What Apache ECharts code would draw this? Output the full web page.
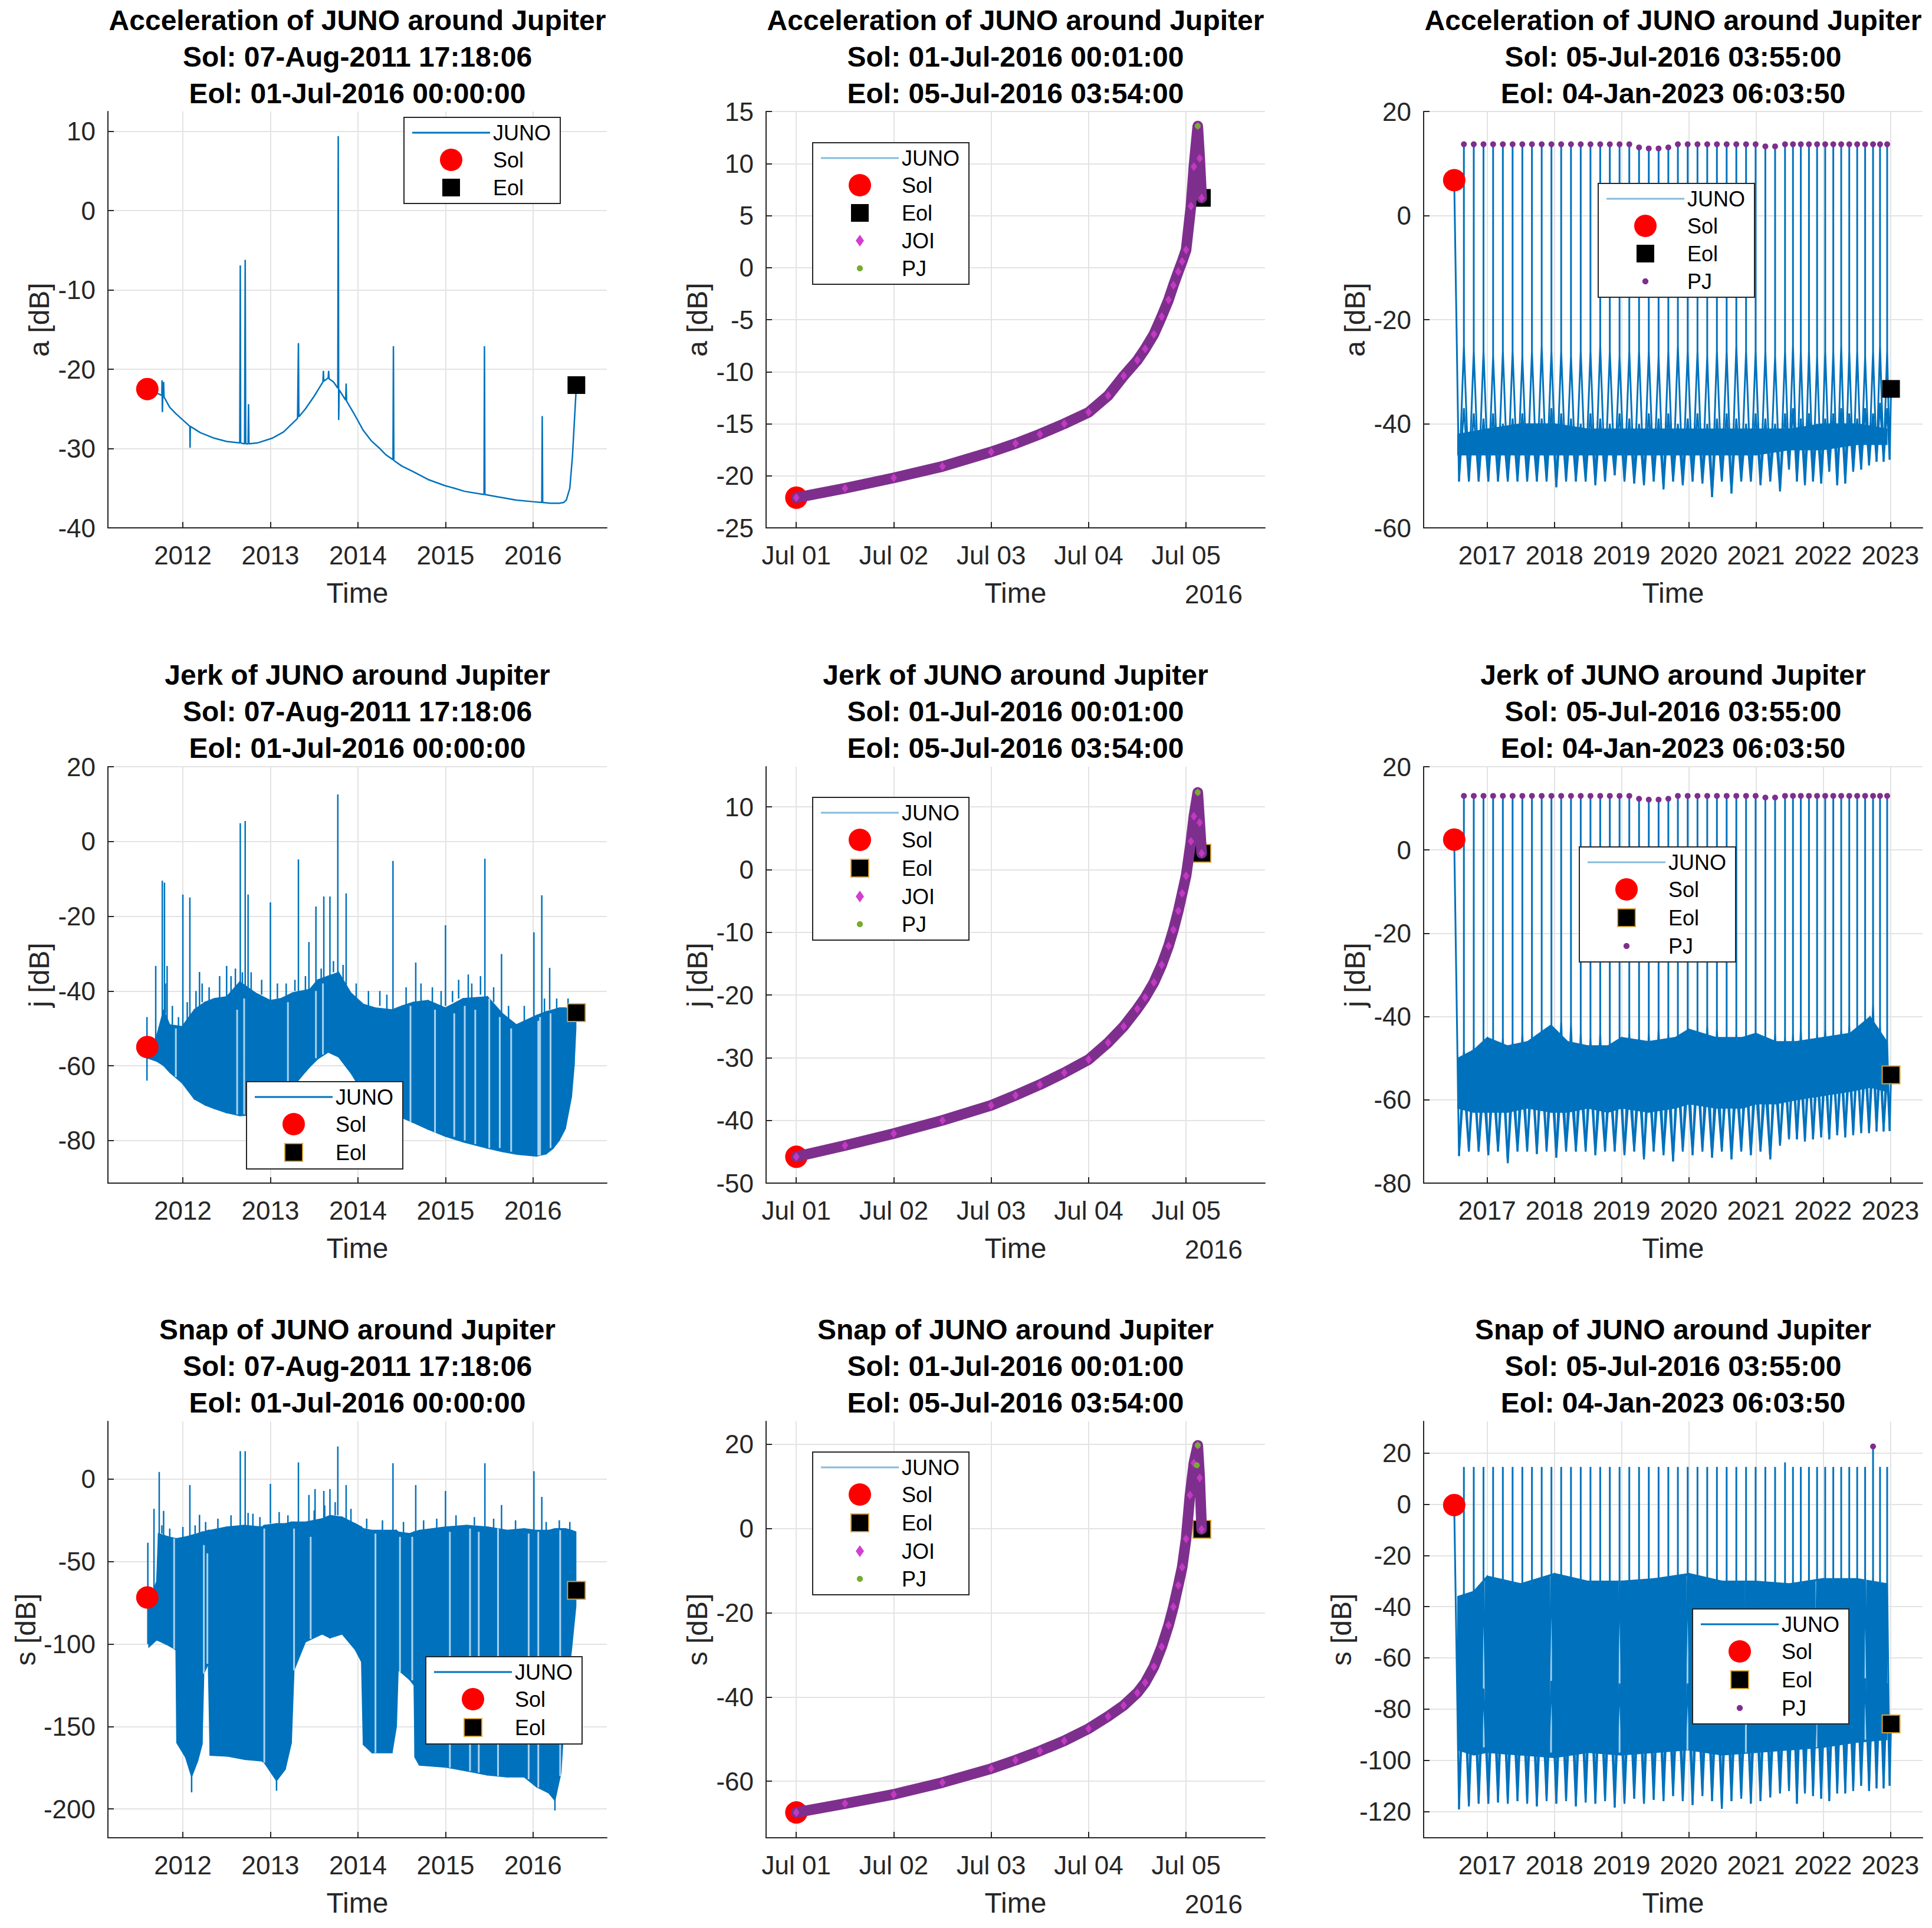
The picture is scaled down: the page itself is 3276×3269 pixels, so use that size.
<!DOCTYPE html>
<html><head><meta charset="utf-8">
<script src="https://cdn.jsdelivr.net/npm/echarts@6/dist/echarts.min.js"></script>
<style>html,body{margin:0;padding:0;background:#fff}#c{width:3276px;height:3269px}</style>
</head><body><div id="c"></div><script>
// ---------------- tick labels / text ----------------
const yearTicksCruise = [2012, 2013, 2014, 2015, 2016];
const dayTicksJOI = [1, 2, 3, 4, 5];
const dayTickLabelsJOI = ['Jul 01', 'Jul 02', 'Jul 03', 'Jul 04', 'Jul 05'];
const yearTicksScience = [2017, 2018, 2019, 2020, 2021, 2022, 2023];
const yTicksPanels = [
  [-40, -30, -20, -10, 0, 10], [-25, -20, -15, -10, -5, 0, 5, 10, 15], [-60, -40, -20, 0, 20],
  [-80, -60, -40, -20, 0, 20], [-50, -40, -30, -20, -10, 0, 10], [-80, -60, -40, -20, 0, 20],
  [-200, -150, -100, -50, 0], [-60, -40, -20, 0, 20], [-120, -100, -80, -60, -40, -20, 0, 20]
];
const xRanges = [[2011.144, 2016.843], [0.69, 5.81], [2016.054, 2023.48]];
const yRanges = [[-40, 12.5], [-25, 15], [-60, 20], [-91.4, 20], [-50, 16.4], [-80, 20], [-217.5, 35], [-73.4, 25.4], [-130.3, 32.4]];
const quantities = ['Acceleration', 'Jerk', 'Snap'];
const ySymbols = ['a', 'j', 's'];
const solText = ['07-Aug-2011 17:18:06', '01-Jul-2016 00:01:00', '05-Jul-2016 03:55:00'];
const eolText = ['01-Jul-2016 00:00:00', '05-Jul-2016 03:54:00', '04-Jan-2023 06:03:50'];
const yearLabelJOI = '2016';

// ---------------- Sol / Eol markers (row-major panels) ----------------
const solMarks = [[2011.594, -22.5], [1.0007, -22.1], [2016.509, 6.8], [2011.594, -55.0], [1.0007, -45.8], [2016.509, 2.5], [2011.594, -71.8], [1.0007, -67.4], [2016.509, -0.3]];
const eolMarks = [[2016.495, -22.0], [5.1625, 6.7], [2023.011, -33.3], [2016.495, -45.8], [5.1625, 2.6], [2023.011, -54.0], [2016.495, -67.5], [5.1625, -0.2], [2023.011, -85.8]];

// ---------------- cruise (2011-2016) ----------------
const accCruise = [[2011.594,-22.5],[2011.65,-22.8],[2011.70,-23.0],[2011.76,-23.3],[2011.762,-21.4],[2011.766,-25.4],[2011.77,-23.4],[2011.78,-21.6],[2011.785,-23.5],[2011.85,-24.8],[2011.92,-25.6],[2012.0,-26.4],[2012.08,-27.2],[2012.082,-29.9],[2012.085,-27.2],[2012.2,-28.0],[2012.36,-28.7],[2012.5,-29.1],[2012.65,-29.3],[2012.656,-6.9],[2012.66,-29.3],[2012.705,-29.4],[2012.712,-6.2],[2012.718,-29.4],[2012.745,-29.4],[2012.75,-24.4],[2012.755,-29.4],[2012.85,-29.3],[2013.02,-28.7],[2013.15,-27.9],[2013.31,-26.2],[2013.32,-16.7],[2013.325,-26.0],[2013.4,-25.0],[2013.50,-23.4],[2013.55,-22.5],[2013.60,-21.6],[2013.605,-20.2],[2013.61,-21.5],[2013.66,-21.1],[2013.665,-20.2],[2013.67,-21.2],[2013.72,-21.6],[2013.77,-22.4],[2013.775,9.4],[2013.78,-26.4],[2013.785,-22.6],[2013.86,-23.9],[2013.865,-21.8],[2013.87,-24.0],[2013.95,-25.5],[2014.06,-27.7],[2014.15,-29.0],[2014.25,-30.0],[2014.32,-30.8],[2014.40,-31.4],[2014.405,-17.1],[2014.41,-31.5],[2014.5,-32.2],[2014.63,-32.9],[2014.8,-33.9],[2015.00,-34.7],[2015.1,-35.0],[2015.22,-35.4],[2015.44,-35.8],[2015.445,-17.1],[2015.45,-35.8],[2015.6,-36.1],[2015.81,-36.5],[2016.0,-36.7],[2016.10,-36.8],[2016.105,-25.9],[2016.11,-36.8],[2016.2,-36.9],[2016.30,-36.9],[2016.35,-36.8],[2016.38,-36.5],[2016.42,-35.0],[2016.45,-31.0],[2016.47,-27.0],[2016.495,-22.0]];

// [time, lower edge, upper edge]
const jerkCruiseBand = [[2011.600,-58.0,-57.0],[2011.700,-58.8,-52.0],[2011.780,-60.0,-45.0],[2011.850,-61.8,-49.0],[2011.990,-64.6,-49.5],[2012.130,-68.9,-45.0],[2012.250,-70.5,-43.0],[2012.360,-71.5,-42.0],[2012.500,-72.6,-41.5],[2012.650,-73.4,-37.5],[2012.830,-73.1,-40.5],[2013.000,-71.5,-42.5],[2013.120,-69.4,-42.0],[2013.250,-66.0,-40.5],[2013.350,-63.0,-40.0],[2013.450,-60.3,-39.5],[2013.540,-58.2,-37.0],[2013.660,-56.4,-36.0],[2013.780,-57.7,-35.0],[2013.920,-62.0,-40.5],[2014.060,-67.3,-43.5],[2014.200,-70.3,-44.5],[2014.390,-72.6,-45.0],[2014.500,-73.9,-44.0],[2014.630,-75.2,-43.0],[2014.800,-77.0,-42.5],[2015.000,-78.9,-44.5],[2015.200,-80.4,-42.0],[2015.480,-82.1,-41.5],[2015.650,-83.0,-46.0],[2015.810,-83.7,-49.0],[2016.040,-84.2,-46.5],[2016.150,-83.6,-45.5],[2016.230,-82.1,-45.0],[2016.300,-80.0,-44.5],[2016.370,-76.8,-44.5],[2016.440,-68.3,-45.0],[2016.470,-60.0,-45.5],[2016.490,-50.0,-46.0]];
// [time, bottom, top]
const jerkCruiseSpikes = [[2011.590,-64.0,-47.0],[2011.690,-55.0,-33.3],[2011.765,-48.0,-10.5],[2011.790,-48.0,-11.0],[2011.820,-48.0,-33.3],[2012.000,-50.0,-14.2],[2012.080,-50.0,-15.0],[2012.190,-45.0,-34.9],[2012.500,-43.0,-33.3],[2012.656,-40.0,4.9],[2012.712,-40.0,5.5],[2012.745,-41.0,-14.2],[2013.000,-43.0,-16.3],[2013.320,-41.0,-4.8],[2013.440,-40.0,-26.9],[2013.520,-38.0,-17.4],[2013.610,-37.0,-14.7],[2013.680,-36.0,-14.7],[2013.770,-36.0,12.6],[2013.865,-40.0,-13.9],[2014.400,-45.0,-5.2],[2014.660,-43.0,-32.4],[2015.000,-44.0,-22.4],[2015.260,-42.0,-35.6],[2015.450,-42.0,-4.6],[2015.640,-46.0,-30.1],[2016.010,-47.0,-24.3],[2016.100,-46.0,-14.4],[2016.190,-45.0,-33.8]];
const jerkCruiseFringe = [[2011.80,-46,-38],[2011.88,-49,-44],[2011.95,-50,-47],[2012.05,-48,-43],[2012.15,-45,-40],[2012.22,-43,-38],[2012.30,-43,-39],[2012.42,-42,-36],[2012.55,-41,-36],[2012.60,-39,-34],[2012.68,-38,-35],[2012.78,-40,-35],[2012.90,-41,-37],[2013.08,-42,-38],[2013.18,-42,-38],[2013.28,-40,-37],[2013.40,-40,-36],[2013.58,-37,-34],[2013.72,-35,-32],[2013.83,-37,-33],[2013.98,-42,-38],[2014.12,-44,-40],[2014.25,-44,-40],[2014.33,-45,-41],[2014.55,-44,-39],[2014.72,-43,-38],[2014.85,-43,-39],[2014.95,-44,-40],[2015.08,-43,-40],[2015.15,-42,-37],[2015.30,-42,-38],[2015.40,-41,-36],[2015.55,-43,-39],[2015.72,-48,-44],[2015.90,-48,-44],[2016.13,-46,-42],[2016.27,-45,-42],[2016.40,-45,-42]];
const jerkCruiseStreaks = [[2011.92,-63,-50],[2012.62,-73,-45],[2012.70,-73,-42],[2013.20,-68,-43],[2013.52,-58,-40],[2013.60,-57,-38],[2014.60,-75,-44],[2014.88,-78,-45],[2015.10,-79,-46],[2015.22,-80,-44],[2015.34,-81,-45],[2015.50,-82,-42],[2015.62,-82,-47],[2015.75,-83,-50],[2016.06,-84,-48],[2016.08,-84,-47],[2016.20,-82,-46]];

const snapCruiseBand = [[2011.610,-102.0,-75.0],[2011.700,-97.6,-62.0],[2011.720,-98.0,-33.0],[2011.840,-101.0,-35.0],[2011.920,-103.6,-36.0],[2011.930,-160.0,-36.0],[2012.030,-168.7,-35.0],[2012.100,-180.7,-34.0],[2012.170,-171.0,-33.0],[2012.220,-161.0,-32.0],[2012.240,-118.0,-32.0],[2012.290,-112.0,-31.0],[2012.310,-167.5,-31.0],[2012.500,-168.0,-29.0],[2012.700,-170.0,-28.0],[2012.900,-171.0,-29.0],[2012.930,-172.0,-28.0],[2013.070,-183.0,-27.0],[2013.170,-176.0,-27.0],[2013.240,-160.0,-26.0],[2013.270,-116.0,-26.0],[2013.400,-98.8,-26.0],[2013.590,-94.0,-24.0],[2013.680,-96.4,-22.0],[2013.820,-94.0,-23.0],[2013.970,-103.6,-27.0],[2014.040,-110.8,-29.0],[2014.060,-161.0,-30.0],[2014.160,-166.0,-31.0],[2014.390,-166.0,-31.0],[2014.440,-150.0,-31.0],[2014.460,-115.7,-32.0],[2014.590,-121.7,-33.0],[2014.640,-125.0,-32.0],[2014.650,-168.7,-32.0],[2014.700,-173.5,-31.0],[2015.000,-174.7,-29.0],[2015.240,-177.0,-28.0],[2015.480,-179.5,-29.0],[2015.710,-180.7,-31.0],[2015.900,-180.7,-30.0],[2016.040,-186.7,-31.0],[2016.180,-190.4,-31.0],[2016.250,-195.0,-30.0],[2016.320,-178.0,-30.0],[2016.370,-135.0,-30.0],[2016.440,-103.6,-31.0],[2016.490,-77.0,-32.0]];
const snapCruiseSpikes = [[2011.600,-100.0,-38.6],[2011.670,-70.0,-18.0],[2011.730,-35.0,4.3],[2011.780,-35.0,-19.3],[2012.080,-35.0,-3.6],[2012.190,-33.0,-21.7],[2012.656,-28.0,16.9],[2012.712,-28.0,16.9],[2012.745,-28.0,-20.5],[2013.000,-27.0,-2.9],[2013.320,-26.0,10.1],[2013.440,-26.0,-9.6],[2013.510,-25.0,-6.0],[2013.610,-24.0,-7.2],[2013.680,-22.0,-6.0],[2013.770,-22.0,19.8],[2013.865,-25.0,-3.6],[2014.400,-31.0,9.6],[2014.660,-32.0,-3.6],[2015.000,-29.0,-7.2],[2015.450,-29.0,9.6],[2015.640,-31.0,-15.7],[2016.010,-31.0,4.8],[2016.100,-31.0,-10.8],[2012.100,-175.0,-190.0],[2013.070,-180.0,-189.0],[2016.250,-190.0,-201.0]];
const snapCruiseFringe = [[2011.76,-33,-28],[2011.85,-35,-30],[2012.00,-36,-29],[2012.14,-34,-28],[2012.26,-32,-26],[2012.40,-30,-24],[2012.55,-29,-22],[2012.80,-29,-21],[2012.88,-29,-23],[2013.10,-27,-20],[2013.20,-27,-22],[2013.50,-25,-19],[2013.62,-24,-16],[2013.74,-22,-14],[2013.92,-26,-18],[2014.10,-30,-24],[2014.28,-31,-25],[2014.52,-33,-26],[2014.75,-31,-25],[2014.90,-30,-24],[2015.12,-29,-22],[2015.33,-28,-23],[2015.55,-30,-24],[2015.80,-31,-25],[2016.15,-31,-26],[2016.30,-30,-25],[2016.42,-31,-26]];
const snapCruiseStreaks = [[2011.90,-103,-36],[2012.24,-118,-40],[2012.28,-112,-45],[2012.93,-172,-30],[2013.27,-116,-30],[2013.46,-97,-35],[2014.20,-166,-33],[2014.48,-117,-35],[2014.62,-122,-35],[2015.05,-175,-32],[2015.28,-177,-30],[2015.38,-178,-32],[2015.60,-180,-30],[2015.95,-182,-33],[2016.06,-187,-32],[2016.31,-180,-31]];

// ---------------- Jupiter orbit insertion (day of July 2016) ----------------
const accJOI = [[1.0,-22.1],[1.5,-21.2],[2.0,-20.2],[2.5,-19.1],[3.0,-17.7],[3.25,-16.9],[3.5,-16.0],[3.75,-15.0],[4.0,-13.9],[4.2,-12.3],[4.36,-10.4],[4.5,-8.9],[4.58,-7.8],[4.67,-6.4],[4.75,-4.7],[4.82,-3.1],[4.87,-1.7],[4.92,-0.4],[4.96,0.6],[5.0,1.7],[5.05,5.9],[5.08,9.7],[5.12,13.6],[5.14,10.5],[5.16,6.7]];
const jerkJOI = [[1.0,-45.8],[1.5,-44.0],[2.0,-42.1],[2.5,-40.0],[3.0,-37.6],[3.25,-36.0],[3.5,-34.3],[3.75,-32.4],[4.0,-30.3],[4.2,-27.6],[4.36,-25.0],[4.5,-22.2],[4.58,-20.4],[4.67,-18.0],[4.75,-15.2],[4.82,-12.2],[4.87,-9.6],[4.92,-6.6],[4.96,-3.8],[5.0,-1.0],[5.05,4.5],[5.08,8.5],[5.12,12.3],[5.14,7.5],[5.16,2.6]];
const snapJOI = [[1.0,-67.4],[1.5,-65.3],[2.0,-63.1],[2.5,-60.3],[3.0,-57.0],[3.25,-55.0],[3.5,-52.8],[3.75,-50.4],[4.0,-47.5],[4.2,-44.6],[4.36,-42.0],[4.5,-39.0],[4.58,-36.6],[4.67,-32.8],[4.75,-28.1],[4.82,-23.0],[4.87,-18.6],[4.92,-13.5],[4.96,-9.2],[5.0,-2.5],[5.04,7.9],[5.08,15.5],[5.12,19.7],[5.14,12.0],[5.16,-0.2]];
const accJOIPJ = [[5.12, 13.6]];
const jerkJOIPJ = [[5.12, 12.3]];
const snapJOIPJ = [[5.11, 15.0], [5.12, 19.7]];

// ---------------- science orbits (2016-2023) ----------------
const pjTimes = [2016.653,2016.800,2016.945,2017.088,2017.233,2017.378,2017.523,2017.666,2017.811,2017.956,2018.101,2018.247,2018.392,2018.537,2018.682,2018.825,2018.970,2019.115,2019.260,2019.405,2019.551,2019.696,2019.838,2019.984,2020.130,2020.275,2020.419,2020.564,2020.708,2020.853,2020.995,2021.140,2021.285,2021.433,2021.551,2021.668,2021.789,2021.910,2022.031,2022.151,2022.269,2022.389,2022.507,2022.625,2022.743,2022.847,2022.953];
const apoTimes = [2016.580,2016.727,2016.873,2017.017,2017.161,2017.306,2017.451,2017.595,2017.739,2017.884,2018.029,2018.174,2018.320,2018.465,2018.610,2018.754,2018.898,2019.043,2019.188,2019.333,2019.478,2019.624,2019.767,2019.911,2020.057,2020.203,2020.347,2020.492,2020.636,2020.781,2020.924,2021.068,2021.213,2021.359,2021.492,2021.610,2021.729,2021.850,2021.971,2022.091,2022.210,2022.329,2022.448,2022.566,2022.684,2022.795,2022.900,2022.990];
const accSciPeak = [13.7,13.7,13.7,13.7,13.7,13.7,13.7,13.7,13.7,13.7,13.7,13.7,13.7,13.7,13.7,13.7,13.7,13.7,13.1,12.9,12.9,13.1,13.7,13.7,13.7,13.7,13.7,13.7,13.7,13.7,13.7,13.3,13.3,13.7,13.7,13.7,13.7,13.7,13.7,13.7,13.7,13.7,13.7,13.7,13.7,13.7,13.7];
const accSciShoulder = [-25,-26,-26,-27,-26,-26,-27,-26,-25,-26,-26,-27,-26,-26,-25,-26,-27,-26,-26,-26,-27,-26,-25,-26,-26,-27,-26,-26,-25,-26,-26,-26,-27,-26,-25,-26,-26,-27,-26,-26,-25,-26,-26,-27,-26,-25,-26];
const accSciInner = [-37,-38,-39,-38,-40,-39,-38,-40,-39,-37,-38,-39,-40,-38,-39,-40,-38,-39,-40,-38,-39,-38,-40,-39,-38,-40,-39,-38,-39,-40,-38,-39,-40,-38,-37,-39,-38,-40,-39,-38,-37,-38,-39,-37,-38,-36,-37];
const accSciApo = [-51.1,-51.1,-51.1,-51.1,-51.1,-51.1,-51.1,-51.1,-51.1,-51.1,-52.2,-51.1,-51.1,-51.1,-51.8,-51.1,-49.9,-51.1,-51.5,-51.8,-51.1,-52.6,-51.1,-51.8,-51.1,-51.5,-54.1,-51.1,-53.4,-51.1,-51.1,-51.8,-51.1,-53.0,-48.8,-51.1,-51.8,-51.1,-51.5,-49.2,-51.8,-51.5,-49.2,-48.8,-48.0,-47.3,-47.3,-46.9];
const accSciCore = [[2016.56,-46,-42],[2017.0,-46,-41],[2017.5,-46,-40],[2018.0,-46,-40],[2018.5,-46,-41],[2019.0,-46,-41],[2019.5,-46,-41],[2020.0,-46,-41],[2020.5,-46,-41],[2021.0,-46,-41],[2021.5,-45,-41],[2022.0,-45,-40],[2022.5,-44,-40],[2022.95,-44,-41]];
const jerkSciPeak = [13.0,13.0,13.0,13.0,13.0,13.0,13.0,13.0,13.0,13.0,13.0,13.0,13.0,13.0,13.0,13.0,13.0,13.0,12.3,12.1,12.1,12.3,13.0,13.0,13.0,13.0,13.0,13.0,13.0,13.0,13.0,12.6,12.6,13.0,13.0,13.0,13.0,13.0,13.0,13.0,13.0,13.0,13.0,13.0,13.0,13.0,13.0];
const jerkSciShoulder = [-48,-47,-46,-46,-45,-46,-44,-45,-43,-42,-41,-42,-44,-45,-44,-46,-45,-44,-45,-44,-43,-44,-45,-43,-44,-42,-43,-45,-44,-45,-44,-45,-44,-45,-44,-43,-45,-44,-43,-44,-43,-42,-43,-41,-37,-42,-46];
const jerkSciInner = [-56,-55,-57,-56,-55,-57,-56,-54,-53,-55,-56,-57,-56,-55,-57,-56,-55,-57,-56,-55,-56,-57,-55,-56,-54,-56,-57,-55,-56,-55,-56,-57,-55,-54,-53,-54,-53,-54,-53,-52,-53,-52,-51,-52,-50,-52,-54];
const jerkSciApo = [-73.5,-72.4,-72.4,-73.3,-72.4,-75.2,-72.4,-72.4,-73.0,-72.4,-73.9,-72.4,-72.4,-72.4,-73.3,-72.4,-72.4,-73.3,-72.4,-74.3,-72.4,-73.3,-74.8,-72.4,-73.3,-72.4,-73.9,-72.4,-74.3,-72.4,-73.3,-72.4,-74.3,-71.0,-69.5,-69.5,-70.0,-69.5,-69.0,-69.5,-68.5,-69.0,-68.5,-68.0,-68.0,-67.6,-67.6,-67.5];
const jerkSciCore = [[2016.56,-62,-50],[2016.8,-63,-48],[2017.0,-63,-45],[2017.3,-63,-47],[2017.6,-62,-46],[2017.95,-63,-42],[2018.2,-63,-46],[2018.5,-62,-47],[2018.8,-63,-47],[2019.0,-62,-45],[2019.4,-63,-46],[2019.8,-62,-45],[2020.0,-61,-43],[2020.4,-62,-45],[2020.8,-62,-45],[2021.0,-61,-44],[2021.3,-61,-46],[2021.6,-60,-46],[2022.0,-59,-45],[2022.4,-58,-44],[2022.7,-57,-40],[2022.95,-58,-46]];
const snapSciPeak = [14.6,14.6,14.6,14.6,14.6,14.6,14.6,14.6,14.6,14.6,14.6,14.6,14.6,14.6,14.6,14.6,14.6,14.6,14.6,14.6,14.6,14.6,14.6,14.6,14.6,14.6,14.6,14.6,14.6,14.6,14.6,14.6,14.6,16.4,14.6,14.6,14.6,14.6,14.6,14.6,14.6,14.6,14.6,14.6,22.6,14.6,14.6];
const snapSciShoulder = [-34,-33,-32,-30,-31,-30,-30,-29,-30,-28,-29,-30,-30,-29,-30,-31,-30,-29,-30,-29,-28,-29,-30,-29,-30,-29,-30,-31,-30,-29,-30,-30,-29,-30,-29,-30,-29,-30,-29,-29,-29,-30,-29,-30,-28,-29,-30];
const snapSciInner = [-68,-70,-72,-70,-69,-72,-71,-70,-72,-69,-70,-72,-71,-70,-69,-72,-70,-71,-72,-70,-69,-71,-72,-70,-71,-69,-72,-70,-71,-70,-72,-69,-71,-70,-68,-70,-69,-71,-70,-69,-68,-70,-69,-68,-66,-68,-70];
const snapSciApo = [-119.2,-118.0,-117.0,-117.0,-116.5,-117.0,-116.0,-117.0,-118.0,-116.0,-117.0,-116.0,-118.0,-116.5,-117.0,-116.0,-118.5,-117.0,-115.0,-117.0,-115.5,-116.0,-114.0,-116.0,-117.5,-114.0,-116.0,-119.0,-116.0,-115.0,-117.0,-116.0,-114.5,-113.0,-112.0,-117.0,-113.0,-114.0,-115.0,-116.0,-113.0,-113.0,-112.0,-110.0,-112.0,-111.0,-111.0,-110.0];
const snapSciCore = [[2016.56,-96,-36],[2016.8,-98,-34],[2017.0,-97,-28],[2017.5,-98,-31],[2018.0,-99,-27],[2018.5,-97,-30],[2019.0,-98,-30],[2019.5,-97,-29],[2020.0,-96,-27],[2020.5,-98,-30],[2021.0,-97,-30],[2021.5,-96,-31],[2022.0,-95,-29],[2022.5,-93,-29],[2022.95,-92,-31]];
const snapSciStreaks = [[2016.95,-95,-30],[2017.95,-97,-28],[2018.97,-97,-30],[2019.98,-96,-28],[2020.85,-97,-30],[2021.9,-95,-30],[2022.63,-92,-29]];
const snapSciPJ = [[2022.743, 22.6]];

// ---------------- layout & style (not data) ----------------
const L = { colLeft: [183, 1299, 2414], rowTop: [189, 1300, 2410], w: 846, h: 706, titleTop: [3, 1113, 2223] };
const legendPos = [[685,199],[1378,242],[2710,311],[418,1834],[1378,1352],[2678,1436],[722,2809],[1378,2462],[2870,2728]];
const yNameGaps = [93, 93, 93, 93, 93, 93, 116, 93, 116];
const FONT = '"Liberation Sans", Arial, Helvetica, sans-serif';
const BLUE = '#0072BD', AXIS = '#262626', GRID = '#E3E3E3', LIGHT = '#A9D2EF';
const ICON_LINE = 'path://M0,0L132,0L132,3L0,3Z';
const ICON_SQ = 'path://M0,0M38,38M4,4L34,4L34,34L4,34Z';
const ICON_DIA = 'path://M0,0M38,38M19,9L26,19L19,29L12,19Z';
const ICON_DOT = 'path://M0,0M38,38M17,14L21,14L24,17L24,21L21,24L17,24L14,21L14,17Z';

const grids = [], xAxes = [], yAxes = [], series = [], legends = [], graphics = [];

function xAxisFor(idx, c) {
  const ticks = [yearTicksCruise, dayTicksJOI, yearTicksScience][c];
  const fmt = c === 1 ? (v => dayTickLabelsJOI[dayTicksJOI.indexOf(Math.round(v))]) : (v => String(Math.round(v)));
  return {
    type: 'value', gridIndex: idx, min: xRanges[c][0], max: xRanges[c][1],
    name: 'Time', nameLocation: 'middle', nameGap: 86,
    nameTextStyle: { fontSize: 48, color: AXIS, fontFamily: FONT },
    axisLine: { show: true, onZero: false, lineStyle: { color: AXIS, width: 2 } },
    axisTick: { show: true, inside: true, length: 10, customValues: ticks, lineStyle: { color: AXIS, width: 2 } },
    axisLabel: { customValues: ticks, formatter: fmt, margin: 24, fontSize: 44, color: AXIS, fontFamily: FONT },
    splitLine: { show: true, lineStyle: { color: GRID, width: 2 } }
  };
}
function yAxisFor(idx, r) {
  return {
    type: 'value', gridIndex: idx, min: yRanges[idx][0], max: yRanges[idx][1],
    name: ySymbols[r] + ' [dB]', nameLocation: 'middle', nameGap: yNameGaps[idx],
    nameTextStyle: { fontSize: 48, color: AXIS, fontFamily: FONT },
    axisLine: { show: true, onZero: false, lineStyle: { color: AXIS, width: 2 } },
    axisTick: { show: true, inside: true, length: 10, customValues: yTicksPanels[idx], lineStyle: { color: AXIS, width: 2 } },
    axisLabel: { customValues: yTicksPanels[idx], margin: 21, fontSize: 44, color: AXIS, fontFamily: FONT },
    splitLine: { show: true, lineStyle: { color: GRID, width: 2 } }
  };
}
function line(idx, name, data, color, width, z, extra) {
  series.push(Object.assign({
    type: 'line', name, xAxisIndex: idx, yAxisIndex: idx, data, symbol: 'none', showSymbol: false,
    lineStyle: { color, width }, itemStyle: { color }, z, silent: true, connectNulls: false, animation: false
  }, extra || {}));
}
function segments(list) { const out = []; list.forEach(s => { out.push([s[0], s[1]], [s[0], s[2]], [s[0], '-']); }); return out; }
function band(idx, list) {
  const data = [];
  for (let i = 0; i < list.length - 1; i++) {
    data.push([list[i][0], list[i][1], list[i][2], list[i + 1][0], list[i + 1][1], list[i + 1][2]]);
  }
  series.push({
    type: 'custom', name: 'JUNO band', xAxisIndex: idx, yAxisIndex: idx, data,
    encode: { x: [0, 3], y: [1, 2, 4, 5] }, z: 1, silent: true, animation: false,
    renderItem: function (params, api) {
      const p1 = api.coord([api.value(0), api.value(1)]);
      const p2 = api.coord([api.value(3), api.value(4)]);
      const p3 = api.coord([api.value(3), api.value(5)]);
      const p4 = api.coord([api.value(0), api.value(2)]);
      return { type: 'polygon', shape: { points: [p1, p2, p3, p4] }, style: { fill: BLUE, stroke: BLUE, lineWidth: 1.5 } };
    }
  });
}
function orbitLine(sol, apoV, sh, pk, eol) {
  const pts = [sol, [apoTimes[0], apoV[0]]];
  for (let i = 0; i < pjTimes.length; i++) {
    pts.push([pjTimes[i], sh[i]], [pjTimes[i], pk[i]], [pjTimes[i], sh[i]], [apoTimes[i + 1], apoV[i + 1]]);
  }
  pts.push(eol);
  return pts;
}
function innerLine(apoV, inner) {
  const pts = [[apoTimes[0], apoV[0]]];
  for (let i = 0; i < pjTimes.length; i++) pts.push([pjTimes[i], inner[i]], [apoTimes[i + 1], apoV[i + 1]]);
  return pts;
}
function marks(idx, r) {
  series.push({ type: 'scatter', name: 'Sol', xAxisIndex: idx, yAxisIndex: idx, data: [solMarks[idx]], symbol: 'circle', symbolSize: 38, itemStyle: { color: '#FF0000', opacity: 1 }, z: 4, silent: true, animation: false });
  series.push({ type: 'scatter', name: 'Eol', xAxisIndex: idx, yAxisIndex: idx, data: [eolMarks[idx]], symbol: 'rect', symbolSize: 30,
    itemStyle: { color: '#000000', opacity: 1, borderColor: r > 0 ? '#D4A03A' : '#000000', borderWidth: r > 0 ? 2 : 0 }, z: 4, silent: true, animation: false });
}
function pjDots(idx, data, color, z) {
  series.push({ type: 'scatter', name: 'PJ', xAxisIndex: idx, yAxisIndex: idx, data, symbol: 'circle', symbolSize: 10, itemStyle: { color, opacity: 1 }, z, silent: true, animation: false });
}

for (let r = 0; r < 3; r++) {
  for (let c = 0; c < 3; c++) {
    const idx = r * 3 + c;
    grids.push({ left: L.colLeft[c], top: L.rowTop[r], width: L.w, height: L.h, containLabel: false, outerBoundsMode: 'none' });
    xAxes.push(xAxisFor(idx, c));
    yAxes.push(yAxisFor(idx, r));
    const cx = L.colLeft[c] + L.w / 2;
    graphics.push({ type: 'text', x: cx, y: L.titleTop[r], z: 100, silent: true,
      style: { text: quantities[r] + ' of JUNO around Jupiter\nSol: ' + solText[c] + '\nEol: ' + eolText[c],
        fill: '#000', fontSize: 48, fontWeight: 'bold', fontFamily: FONT, lineHeight: 62,
        align: 'center', verticalAlign: 'top', textAlign: 'center', textVerticalAlign: 'top' } });
    if (c === 1) {
      graphics.push({ type: 'text', x: 2058, y: L.rowTop[r] + L.h + 112, z: 100, silent: true,
        style: { text: yearLabelJOI, fill: AXIS, fontSize: 44, fontFamily: FONT, align: 'center', verticalAlign: 'middle', textAlign: 'center', textVerticalAlign: 'middle' } });
    }

    if (c === 0) {
      if (r === 0) {
        line(idx, 'JUNO', accCruise, BLUE, 2.5, 3);
      } else {
        const b = r === 1 ? jerkCruiseBand : snapCruiseBand;
        const st = r === 1 ? jerkCruiseStreaks : snapCruiseStreaks;
        const fr = r === 1 ? jerkCruiseFringe : snapCruiseFringe;
        const sp = r === 1 ? jerkCruiseSpikes : snapCruiseSpikes;
        band(idx, b);
        line(idx, 'JUNO streaks', segments(st), LIGHT, 3, 2);
        line(idx, 'JUNO fringe', segments(fr), BLUE, 2.5, 2);
        line(idx, 'JUNO', segments(sp), BLUE, 2.5, 3);
      }
      marks(idx, r);
    } else if (c === 1) {
      const curve = [accJOI, jerkJOI, snapJOI][r];
      const pj = [accJOIPJ, jerkJOIPJ, snapJOIPJ][r];
      line(idx, 'JUNO', curve, '#8CC3E3', 2.5, 2);
      marks(idx, r);
      line(idx, 'JOI', curve, '#7E2F8E', 18, 5, { symbol: 'diamond', symbolSize: [11, 15], showSymbol: true, itemStyle: { color: '#C23AC2' }, lineStyle: { color: '#7E2F8E', width: 18, cap: 'round', join: 'round' } });
      pjDots(idx, pj, '#77AC30', 6);
    } else {
      const pk = [accSciPeak, jerkSciPeak, snapSciPeak][r];
      const sh = [accSciShoulder, jerkSciShoulder, snapSciShoulder][r];
      const inn = [accSciInner, jerkSciInner, snapSciInner][r];
      const ap = [accSciApo, jerkSciApo, snapSciApo][r];
      band(idx, [accSciCore, jerkSciCore, snapSciCore][r]);
      if (r === 2) line(idx, 'JUNO streaks', segments(snapSciStreaks), LIGHT, 3, 2);
      line(idx, 'JUNO inner', innerLine(ap, inn), BLUE, 3, 3);
      line(idx, 'JUNO', orbitLine(solMarks[idx], ap, sh, pk, eolMarks[idx]), BLUE, 3, 3);
      marks(idx, r);
      const dots = r === 2 ? snapSciPJ : pjTimes.map((t, i) => [t, pk[i]]);
      pjDots(idx, dots, '#7E2F8E', 6);
    }

    const juColor = (c === 0 || idx === 8) ? BLUE : '#86BCDD';
    const items = [
      { name: 'JUNO', icon: ICON_LINE, itemStyle: { color: juColor, borderWidth: 0 } },
      { name: 'Sol', icon: 'circle', itemStyle: { color: '#FF0000', borderWidth: 0, opacity: 1 } },
      { name: 'Eol', icon: ICON_SQ, itemStyle: { color: '#000000', opacity: 1, borderColor: r > 0 ? '#D4A03A' : '#000000', borderWidth: r > 0 ? 2 : 0 } }
    ];
    if (c === 1) items.push({ name: 'JOI', icon: ICON_DIA, itemStyle: { color: '#D23ED2', borderWidth: 0 } });
    if (c >= 1) items.push({ name: 'PJ', icon: ICON_DOT, itemStyle: { color: c === 1 ? '#77AC30' : '#7E2F8E', borderWidth: 0, opacity: 1 } });
    legends.push({
      show: true, left: legendPos[idx][0], top: legendPos[idx][1], orient: 'vertical', selectedMode: false,
      itemWidth: 132, itemHeight: 38, itemGap: 9, padding: [8, 16, 8, 14],
      backgroundColor: '#ffffff', borderColor: AXIS, borderWidth: 2, borderRadius: 0, z: 50,
      textStyle: { fontSize: 36, color: '#000', fontFamily: FONT },
      data: items
    });
  }
}

const chart = echarts.init(document.getElementById('c'), null, { renderer: 'svg', width: 3276, height: 3269 });
chart.setOption({
  backgroundColor: '#ffffff',
  animation: false,
  textStyle: { fontFamily: FONT },
  grid: grids, xAxis: xAxes, yAxis: yAxes,
  legend: legends, series, graphic: graphics
});
</script></body></html>
